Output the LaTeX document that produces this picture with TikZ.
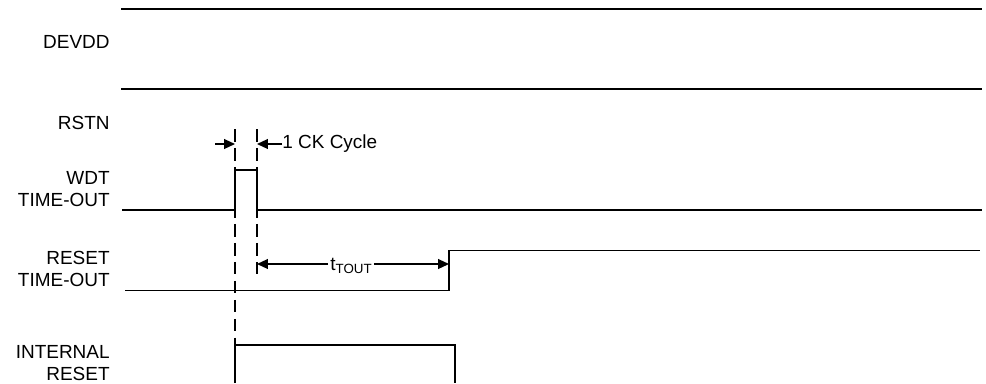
\documentclass[tikz,border=0pt]{standalone}
\usepackage{fontspec}
\setmainfont{Liberation Sans}
\usepackage{tikz}
\usetikzlibrary{arrows.meta}

\begin{document}
\begin{tikzpicture}[
  x=0.02cm,y=-0.02cm,
  font=\fontsize{10.8}{12.5}\selectfont,
  lbl/.style={anchor=east,align=right,inner sep=0pt},
  sig/.style={line width=0.85pt},
  guide/.style={line width=1.6pt,dash pattern=on 7.2pt off 3.6pt},
  dimarr/.style={line width=0.75pt,-{Triangle[length=6.2pt,width=5.6pt]}},
]
\useasboundingbox (0,0) rectangle (986,383);

% signal names
\node[lbl] (devdd) at (110,42) {DEVDD};
\node[lbl] (rstn) at (110,123) {RSTN};
\node[lbl] (wdt) at (110,189) {WDT\\TIME-OUT};
\node[lbl] (rto) at (110,269) {RESET\\TIME-OUT};
\node[lbl] (irst) at (110,363) {INTERNAL\\RESET};

% waveforms
\draw[sig] (121,9) -- (982,9);
\draw[sig] (121,89) -- (982,89);
\draw[sig] (122,210) -- (235,210) -- (235,170) -- (257,170) -- (257,210) -- (982,210);
\draw[sig] (125,290.5) -- (449,290.5) -- (449,250.5) -- (980,250.5);
\draw[sig] (235,383) -- (235,345) -- (455,345) -- (455,383);

% clock edges
\draw[guide] (235,129) -- (235,383);
\draw[guide] (257,129) -- (257,279);

% 1 CK cycle
\coordinate (ckin) at (215,144);
\coordinate (ckl) at (235,144);
\coordinate (ckr) at (257,144);
\node[right,inner sep=0pt] (cktxt) at (282,144) {1 CK Cycle};
\draw[dimarr] (ckin) -- (ckl);
\draw[dimarr] (cktxt.west) -- (ckr);

% t_TOUT
\coordinate (tstart) at (257,264);
\coordinate (tend) at (449,264);
\node[inner sep=1pt] (ttout) at (351,266) {t\raisebox{-0.25ex}{\fontsize{7.6}{8}\selectfont TOUT}};
\draw[dimarr] (ttout.west |- tstart) -- (tstart);
\draw[dimarr] (ttout.east |- tend) -- (tend);
\end{tikzpicture}
\end{document}
